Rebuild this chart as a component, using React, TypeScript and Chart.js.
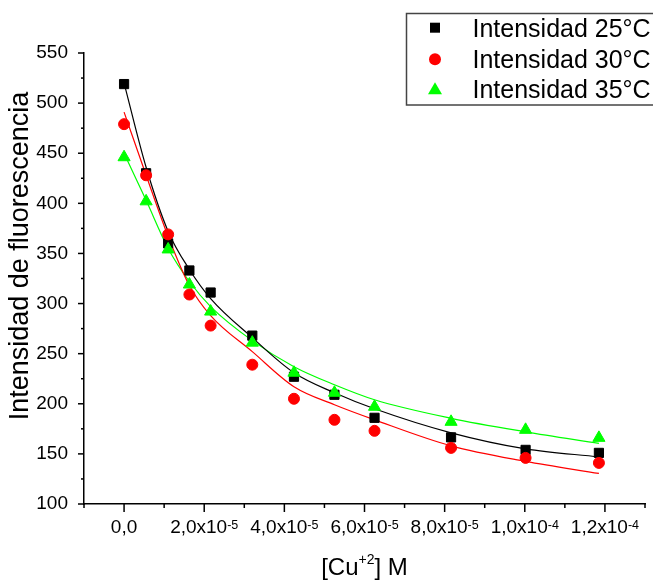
import { useEffect, useRef } from 'react';
import { Chart, registerables } from 'chart.js';

Chart.register(...registerables);

// ---- data ----
const concentrations = [0, 0.55e-5, 1.1e-5, 1.63e-5, 2.16e-5, 3.2e-5, 4.24e-5, 5.25e-5, 6.25e-5, 8.16e-5, 1.002e-4, 1.185e-4];
const intensity25 = [519, 430, 360, 333, 311, 268, 227, 209, 186, 166.5, 154, 151];
const intensity30 = [479, 428, 369, 309, 278, 239, 205, 184, 173, 156, 146, 141];
const intensity35 = [446, 402, 354, 319, 292, 261, 231, 211, 197, 182, 174, 166];
const fit25 = [520, 436, 372, 334, 305, 266, 231, 211, 195, 171, 155, 147];
const fit30 = [491, 428, 367, 318, 288, 252, 217, 199, 184, 158, 142.5, 130.5];
const fit35 = [450, 403, 355, 322, 297, 263, 237, 219, 204, 185.5, 172, 160.5];
const seriesLabels = ['Intensidad 25°C', 'Intensidad 30°C', 'Intensidad 35°C'];
const xTickValues = [0, 2e-5, 4e-5, 6e-5, 8e-5, 1e-4, 1.2e-4];
const xTickMantissas = ['0,0', '2,0x10', '4,0x10', '6,0x10', '8,0x10', '1,0x10', '1,2x10'];
const xTickExponents = ['', '-5', '-5', '-5', '-5', '-4', '-4'];
const yTitle = 'Intensidad de fluorescencia';
const xTitleParts = ['[Cu', '+2', '] M'];

const FONT = '"Liberation Sans", Arial, sans-serif';

const overlayPlugin = {
  id: 'overlay',
  afterDraw(chart: any) {
    const ctx: CanvasRenderingContext2D = chart.ctx;
    const xs = chart.scales.x;
    const ys = chart.scales.y;
    const area = chart.chartArea;
    ctx.save();
    ctx.strokeStyle = '#000';
    ctx.lineWidth = 1.5;
    // x ticks (major + minor)
    for (let k = -1; k <= 13; k++) {
      const px = xs.getPixelForValue(k * 1e-5);
      const major = k >= 0 && k <= 12 && k % 2 === 0;
      ctx.beginPath();
      ctx.moveTo(px, area.bottom);
      ctx.lineTo(px, area.bottom + (major ? 8 : 4));
      ctx.stroke();
    }
    // y ticks
    for (let v = 100; v <= 550; v += 25) {
      const py = ys.getPixelForValue(v);
      const major = v % 50 === 0;
      ctx.beginPath();
      ctx.moveTo(area.left, py);
      ctx.lineTo(area.left - (major ? 6 : 3), py);
      ctx.stroke();
    }
    // x tick labels with superscript exponents
    ctx.fillStyle = '#000';
    ctx.textAlign = 'left';
    ctx.textBaseline = 'alphabetic';
    xTickValues.forEach((v, i) => {
      const px = xs.getPixelForValue(v);
      ctx.font = `19px ${FONT}`;
      const w1 = ctx.measureText(xTickMantissas[i]).width;
      ctx.font = `12.5px ${FONT}`;
      const w2 = xTickExponents[i] ? ctx.measureText(xTickExponents[i]).width : 0;
      const start = px - (w1 + w2) / 2;
      ctx.font = `19px ${FONT}`;
      ctx.fillText(xTickMantissas[i], start, 533);
      if (xTickExponents[i]) {
        ctx.font = `12.5px ${FONT}`;
        ctx.fillText(xTickExponents[i], start + w1, 529);
      }
    });
    // x title
    ctx.font = `24px ${FONT}`;
    const a = ctx.measureText(xTitleParts[0]).width;
    const c = ctx.measureText(xTitleParts[2]).width;
    ctx.font = `14px ${FONT}`;
    const b = ctx.measureText(xTitleParts[1]).width;
    const cx = (area.left + area.right) / 2;
    const sx = cx - (a + b + c) / 2;
    ctx.font = `24px ${FONT}`;
    ctx.fillText(xTitleParts[0], sx, 575);
    ctx.font = `14px ${FONT}`;
    ctx.fillText(xTitleParts[1], sx + a, 564);
    ctx.font = `24px ${FONT}`;
    ctx.fillText(xTitleParts[2], sx + a + b, 575);
    // y title
    ctx.save();
    ctx.translate(21, 256);
    ctx.rotate(-Math.PI / 2);
    ctx.font = `27px ${FONT}`;
    ctx.textAlign = 'center';
    ctx.textBaseline = 'middle';
    ctx.fillText(yTitle, 0, 0);
    ctx.restore();
    // legend
    ctx.fillStyle = '#fff';
    ctx.fillRect(406.5, 13.5, 260, 91.5);
    ctx.strokeStyle = '#444';
    ctx.lineWidth = 1.5;
    ctx.strokeRect(406.5, 13.5, 260, 91.5);
    const rows = [27.7, 59.3, 89.3];
    ctx.fillStyle = '#000';
    ctx.fillRect(430, rows[0] - 5, 10, 10);
    ctx.fillStyle = '#ff0000';
    ctx.beginPath();
    ctx.arc(435, rows[1], 6, 0, Math.PI * 2);
    ctx.fill();
    ctx.fillStyle = '#00ff00';
    ctx.beginPath();
    ctx.moveTo(435, rows[2] - 7);
    ctx.lineTo(442, rows[2] + 5);
    ctx.lineTo(428, rows[2] + 5);
    ctx.closePath();
    ctx.fill();
    ctx.fillStyle = '#000';
    ctx.font = `25px ${FONT}`;
    ctx.textAlign = 'left';
    ctx.textBaseline = 'alphabetic';
    seriesLabels.forEach((t, i) => ctx.fillText(t, 472.5, rows[i] + 9));
    ctx.restore();
  },
};

function pts(ys: number[]) {
  return concentrations.map((x, i) => ({ x, y: ys[i] }));
}

export default function App() {
  const ref = useRef<HTMLCanvasElement | null>(null);
  useEffect(() => {
    if (!ref.current) return;
    const fitStyle = (color: string) => ({
      type: 'line' as const,
      showLine: true,
      borderColor: color,
      borderWidth: 1.2,
      pointRadius: 0,
      cubicInterpolationMode: 'monotone' as const,
      fill: false,
      order: 10,
    });
    const chart = new Chart(ref.current, {
      type: 'scatter',
      data: {
        datasets: [
          { ...fitStyle('#000000'), label: 'fit25', data: pts(fit25) },
          { ...fitStyle('#ff0000'), label: 'fit30', data: pts(fit30) },
          { ...fitStyle('#00ff00'), label: 'fit35', data: pts(fit35) },
          {
            label: seriesLabels[0], data: pts(intensity25), pointStyle: 'rect', pointRadius: 6.5,
            backgroundColor: '#000000', borderColor: '#000000', pointBorderWidth: 1, order: 3,
          },
          {
            label: seriesLabels[2], data: pts(intensity35), pointStyle: 'triangle', pointRadius: 7,
            backgroundColor: '#00ff00', borderColor: '#00ff00', pointBorderWidth: 1, order: 2,
          },
          {
            label: seriesLabels[1], data: pts(intensity30), pointStyle: 'circle', pointRadius: 5.5,
            backgroundColor: '#ff0000', borderColor: '#ff0000', pointBorderWidth: 1, order: 1,
          },
        ] as any,
      },
      options: {
        responsive: false,
        animation: false,
        events: [],
        layout: { padding: { left: 0, right: 5, top: 53, bottom: 0 } },
        plugins: { legend: { display: false }, tooltip: { enabled: false } },
        scales: {
          x: {
            type: 'linear',
            min: -1e-5,
            max: 1.3e-4,
            grid: { display: false, drawTicks: false },
            border: { display: true, color: '#000', width: 1.5 },
            ticks: { display: false },
            afterBuildTicks: (s: any) => { s.ticks = xTickValues.map((value) => ({ value })); },
            afterFit: (s: any) => { s.height = 76; },
          },
          y: {
            type: 'linear',
            min: 100,
            max: 550,
            grid: { display: false, drawTicks: true, tickLength: 6 },
            border: { display: true, color: '#000', width: 1.5 },
            ticks: { stepSize: 50, padding: 10, color: '#000', font: { family: FONT, size: 19 } },
            afterFit: (s: any) => { s.width = 84; },
          },
        },
      },
      plugins: [overlayPlugin],
    });
    return () => chart.destroy();
  }, []);
  return (
    <div style={{ position: 'absolute', left: 0, top: 0, width: 653, height: 580, background: '#fff' }}>
      <canvas ref={ref} width={653} height={580} style={{ display: 'block' }} />
    </div>
  );
}
